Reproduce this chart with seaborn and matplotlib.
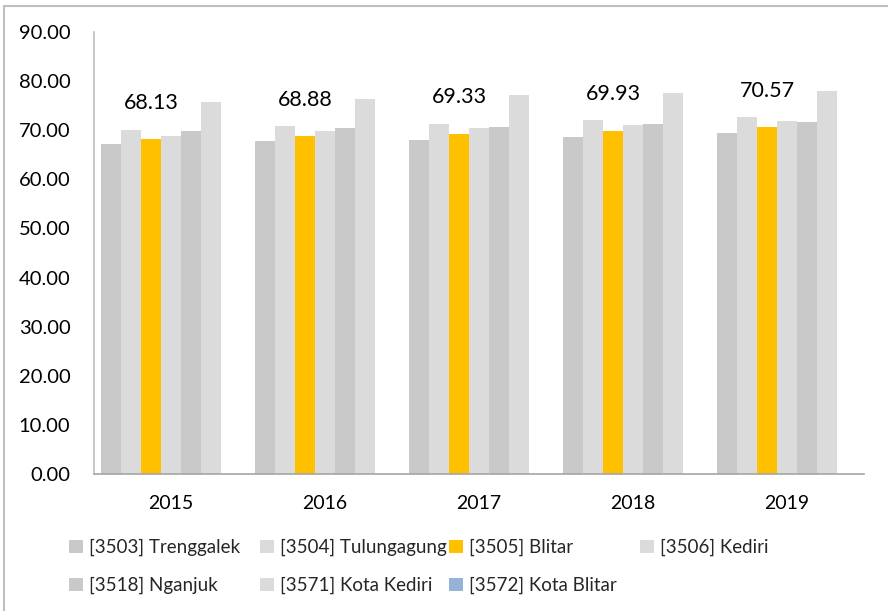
import numpy as np
import pandas as pd
import matplotlib
matplotlib.use("Agg")
import matplotlib.pyplot as plt
import matplotlib.patches as mpatches
import seaborn as sns

years = ["2015", "2016", "2017", "2018", "2019"]
regions = ["[3503] Trenggalek", "[3504] Tulungagung", "[3505] Blitar", "[3506] Kediri",
           "[3518] Nganjuk", "[3571] Kota Kediri", "[3572] Kota Blitar"]
trenggalek = [67.25, 67.78, 68.10, 68.71, 69.46]
tulungagung = [70.07, 70.82, 71.24, 71.99, 72.62]
blitar = [68.13, 68.88, 69.33, 69.93, 70.57]
kediri = [68.91, 69.87, 70.47, 71.07, 71.85]
nganjuk = [69.90, 70.50, 70.69, 71.23, 71.71]
kota_kediri = [75.67, 76.33, 77.13, 77.58, 78.08]
kota_blitar = [np.nan] * 5  # not drawn in the chart
yticks = [0, 10, 20, 30, 40, 50, 60, 70, 80, 90]

series = [trenggalek, tulungagung, blitar, kediri, nganjuk, kota_kediri, kota_blitar]
colors = ["#C9C9C9", "#DBDBDB", "#FFC000", "#DBDBDB", "#C9C9C9", "#DBDBDB", "#95B3D7"]

rows = []
for r, vals in zip(regions, series):
    for y, v in zip(years, vals):
        rows.append({"year": y, "region": r, "value": v})
df = pd.DataFrame(rows)

sns.set_style("white")
plt.rcParams["font.family"] = ["Lato", "DejaVu Sans"]

fig = plt.figure(figsize=(8.88, 6.11), dpi=100)
ax = fig.add_axes([94/888, (611-474)/611, (864-94)/888, 442/611])

sns.barplot(data=df, x="year", y="value", hue="region", hue_order=regions,
            order=years, palette=colors, width=0.909, ax=ax, legend=False,
            errorbar=None, saturation=1, linewidth=0)

ax.set_xlim(-0.5, 4.5)
ax.set_ylim(0, 90)
ax.set_yticks(yticks)
ax.set_yticklabels([f"{v:.2f}" for v in yticks])
ax.set_xlabel("")
ax.set_ylabel("")
ax.tick_params(axis="y", length=0, pad=17, labelsize=14.5, labelcolor="#000000")
ax.tick_params(axis="x", length=0, pad=15, labelsize=14, labelcolor="#000000")
for s in ["top", "right"]:
    ax.spines[s].set_visible(False)
ax.spines["left"].set_color("#BFBFBF")
ax.spines["left"].set_linewidth(1.2)
ax.spines["bottom"].set_color("#A6A6A6")
ax.spines["bottom"].set_linewidth(1.2)

# annotate Blitar bars
nlev = len(regions)
bw = 0.909 / nlev
for i, v in enumerate(blitar):
    xc = i - 0.909/2 + bw*2.5
    ax.annotate(f"{v:.2f}", (xc, v), xytext=(0, 26), textcoords="offset points",
                ha="center", va="center", fontsize=15.5, color="#000000")

# legend in four columns
handles = [mpatches.Patch(facecolor=c, edgecolor="none") for c in colors]
cols = [[0, 4], [1, 5], [2, 6], [3]]
xstarts = [69, 260, 449, 640]
for col, x0 in zip(cols, xstarts):
    fig.legend([handles[k] for k in col], [regions[k] for k in col],
               loc="upper left", bbox_to_anchor=(x0/888, 1 - 539/611),
               frameon=False, fontsize=13.5, handlelength=0.72, handleheight=0.72,
               handletextpad=0.35, labelspacing=1.1, borderpad=0, borderaxespad=0)

border = mpatches.Rectangle((4/888, -0.02), 1.0, (611-6)/611 + 0.02,
                            transform=fig.transFigure, fill=False,
                            edgecolor="#BFBFBF", linewidth=1.5)
fig.patches.append(border)

fig.savefig("out.png", dpi=100)
